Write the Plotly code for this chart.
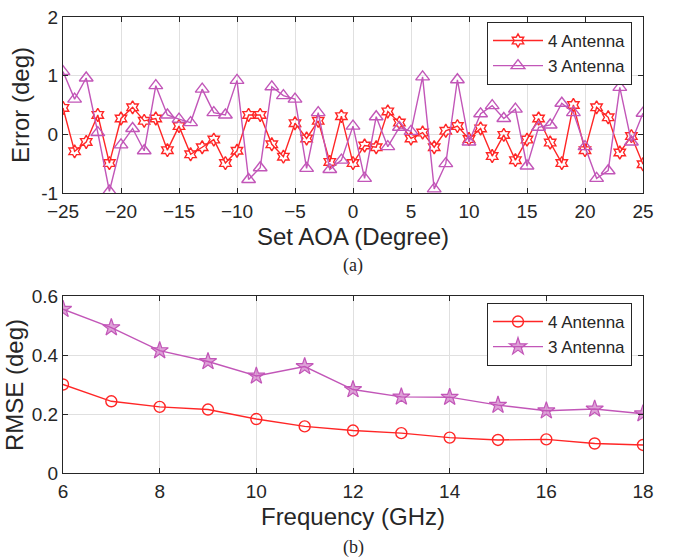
import plotly.graph_objects as go

# ---------------- data ----------------
aoa = list(range(-25, 26))
err_4ant = [0.45, -0.29, -0.13, 0.33, -0.49, 0.27, 0.46, 0.23, 0.27, -0.27,
            0.14, -0.34, -0.22, -0.09, -0.49, -0.28, 0.33, 0.33, -0.17, -0.38,
            0.19, -0.07, 0.23, -0.47, 0.31, -0.49, -0.19, -0.22, 0.39, 0.20,
            -0.07, 0.03, -0.22, 0.06, 0.14, -0.08, 0.10, -0.37, -0.01, -0.44,
            -0.09, 0.27, -0.14, -0.49, 0.50, -0.27, 0.46, 0.29, -0.31, -0.03,
            -0.51]
err_3ant = [1.07, 0.60, 0.96, 0.03, -0.97, -0.18, 0.10, -0.28, 0.83, 0.33,
            0.26, 0.20, 0.77, 0.37, 0.33, 0.92, -0.77, -0.57, 0.81, 0.66,
            0.60, -0.58, 0.37, -0.60, -0.44, 0.14, -0.75, 0.30, -0.21, 0.12,
            0.05, 0.98, -0.93, -0.50, 0.93, -0.13, 0.35, 0.49, 0.27, 0.43,
            -0.54, 0.12, 0.16, 0.53, 0.37, -0.21, -0.75, -0.62, 0.80, -0.13,
            0.36]

freq = [6, 7, 8, 9, 10, 11, 12, 13, 14, 15, 16, 17, 18]
rmse_4ant = [0.300, 0.243, 0.224, 0.215, 0.183, 0.158, 0.144, 0.135, 0.120,
             0.112, 0.114, 0.100, 0.095]
rmse_3ant = [0.555, 0.493, 0.415, 0.378, 0.329, 0.361, 0.283, 0.258, 0.257,
             0.230, 0.211, 0.217, 0.201]

names = ["4 Antenna", "3 Antenna"]
x_ticks_a = [-25, -20, -15, -10, -5, 0, 5, 10, 15, 20, 25]
y_ticks_a = [-1, 0, 1, 2]
y_text_a = ["-1", "0", "1", "2"]
x_ticks_b = [6, 8, 10, 12, 14, 16, 18]
y_ticks_b = [0, 0.2, 0.4, 0.6]
y_text_b = ["0", "0.2", "0.4", "0.6"]

# ---------------- style ----------------
RED = "#ff2626"
PURPLE = "#c256b8"
TXT = "#262626"
GRID = "#e0e0e0"
FONT = "Liberation Sans, Arial, sans-serif"
SERIF = "Liberation Serif, Times New Roman, serif"
W, H = 673, 559

def px_x(p):
    return p / W

def px_y(p):
    return 1 - p / H

fig = go.Figure()

fig.add_trace(go.Scatter(x=aoa, y=err_4ant, name=names[0], mode="lines+markers",
                         line=dict(color=RED, width=1.4),
                         marker=dict(symbol="hexagram-open", size=10, color=RED,
                                     line=dict(width=1.4, color=RED)),
                         xaxis="x", yaxis="y", legend="legend"))
fig.add_trace(go.Scatter(x=aoa, y=err_3ant, name=names[1], mode="lines+markers",
                         line=dict(color=PURPLE, width=1.4),
                         marker=dict(symbol="triangle-up-open", size=12, color=PURPLE,
                                     line=dict(width=1.4, color=PURPLE)),
                         xaxis="x", yaxis="y", legend="legend"))

fig.add_trace(go.Scatter(x=freq, y=rmse_4ant, name=names[0], mode="lines+markers",
                         line=dict(color=RED, width=1.4),
                         marker=dict(symbol="circle-open", size=11, color=RED,
                                     line=dict(width=1.4, color=RED)),
                         xaxis="x2", yaxis="y2", legend="legend2"))
fig.add_trace(go.Scatter(x=freq, y=rmse_3ant, name=names[1], mode="lines+markers",
                         line=dict(color=PURPLE, width=1.4),
                         marker=dict(symbol="star", size=13, color="rgba(194,86,184,0.55)",
                                     line=dict(width=1.2, color=PURPLE)),
                         xaxis="x2", yaxis="y2", legend="legend2"))

axis_common = dict(showline=True, linecolor=TXT, linewidth=1, mirror="ticks",
                   ticks="inside", ticklen=5, tickcolor=TXT, showgrid=True,
                   gridcolor=GRID, gridwidth=1, zeroline=False, automargin=False,
                   ticklabeloverflow="allow",
                   tickfont=dict(family=FONT, size=19, color=TXT),
                   title_font=dict(family=FONT, size=24, color=TXT))

legend_common = dict(xanchor="right", yanchor="top", bgcolor="white",
                     bordercolor=TXT, borderwidth=1,
                     font=dict(family=FONT, size=17, color=TXT),
                     tracegroupgap=0, itemwidth=50)

title_font = dict(family=FONT, size=24, color=TXT)

fig.update_layout(
    width=W, height=H,
    margin=dict(l=0, r=0, t=0, b=0, autoexpand=False),
    paper_bgcolor="white", plot_bgcolor="white",
    font=dict(family=FONT, color=TXT),
    xaxis=dict(domain=[px_x(63), px_x(643)], range=[-25, 25], tickvals=x_ticks_a,
               ticklabelstandoff=1,
               title=dict(text="Set AOA (Degree)", standoff=7), anchor="y", **axis_common),
    yaxis=dict(domain=[px_y(193), px_y(17)], range=[-1, 2], tickvals=y_ticks_a,
               ticktext=y_text_a, anchor="x", **axis_common),
    xaxis2=dict(domain=[px_x(63), px_x(643)], range=[6, 18], tickvals=x_ticks_b,
                ticklabelstandoff=1,
                title=dict(text="Frequency (GHz)", standoff=7), anchor="y2", **axis_common),
    yaxis2=dict(domain=[px_y(473), px_y(296)], range=[0, 0.6], tickvals=y_ticks_b,
                ticktext=y_text_b, anchor="x2", **axis_common),
    legend=dict(x=px_x(632), y=px_y(22), **legend_common),
    legend2=dict(x=px_x(632), y=px_y(303), **legend_common),
    annotations=[
        dict(text="Error (deg)", x=px_x(20), y=px_y(105), xref="paper", yref="paper",
             xanchor="center", yanchor="middle", textangle=-90,
             showarrow=False, font=title_font),
        dict(text="RMSE (deg)", x=px_x(14), y=px_y(385), xref="paper", yref="paper",
             xanchor="center", yanchor="middle", textangle=-90,
             showarrow=False, font=title_font),
        dict(text="(a)", x=px_x(353), y=px_y(265), xref="paper", yref="paper",
             xanchor="center", yanchor="middle",
             showarrow=False, font=dict(family=SERIF, size=18, color=TXT)),
        dict(text="(b)", x=px_x(353), y=px_y(547), xref="paper", yref="paper",
             xanchor="center", yanchor="middle",
             showarrow=False, font=dict(family=SERIF, size=18, color=TXT)),
    ],
)

fig.write_html("out.html",
               config={"displayModeBar": False},
               post_script="document.body.style.margin='0';document.body.style.padding='0';")
